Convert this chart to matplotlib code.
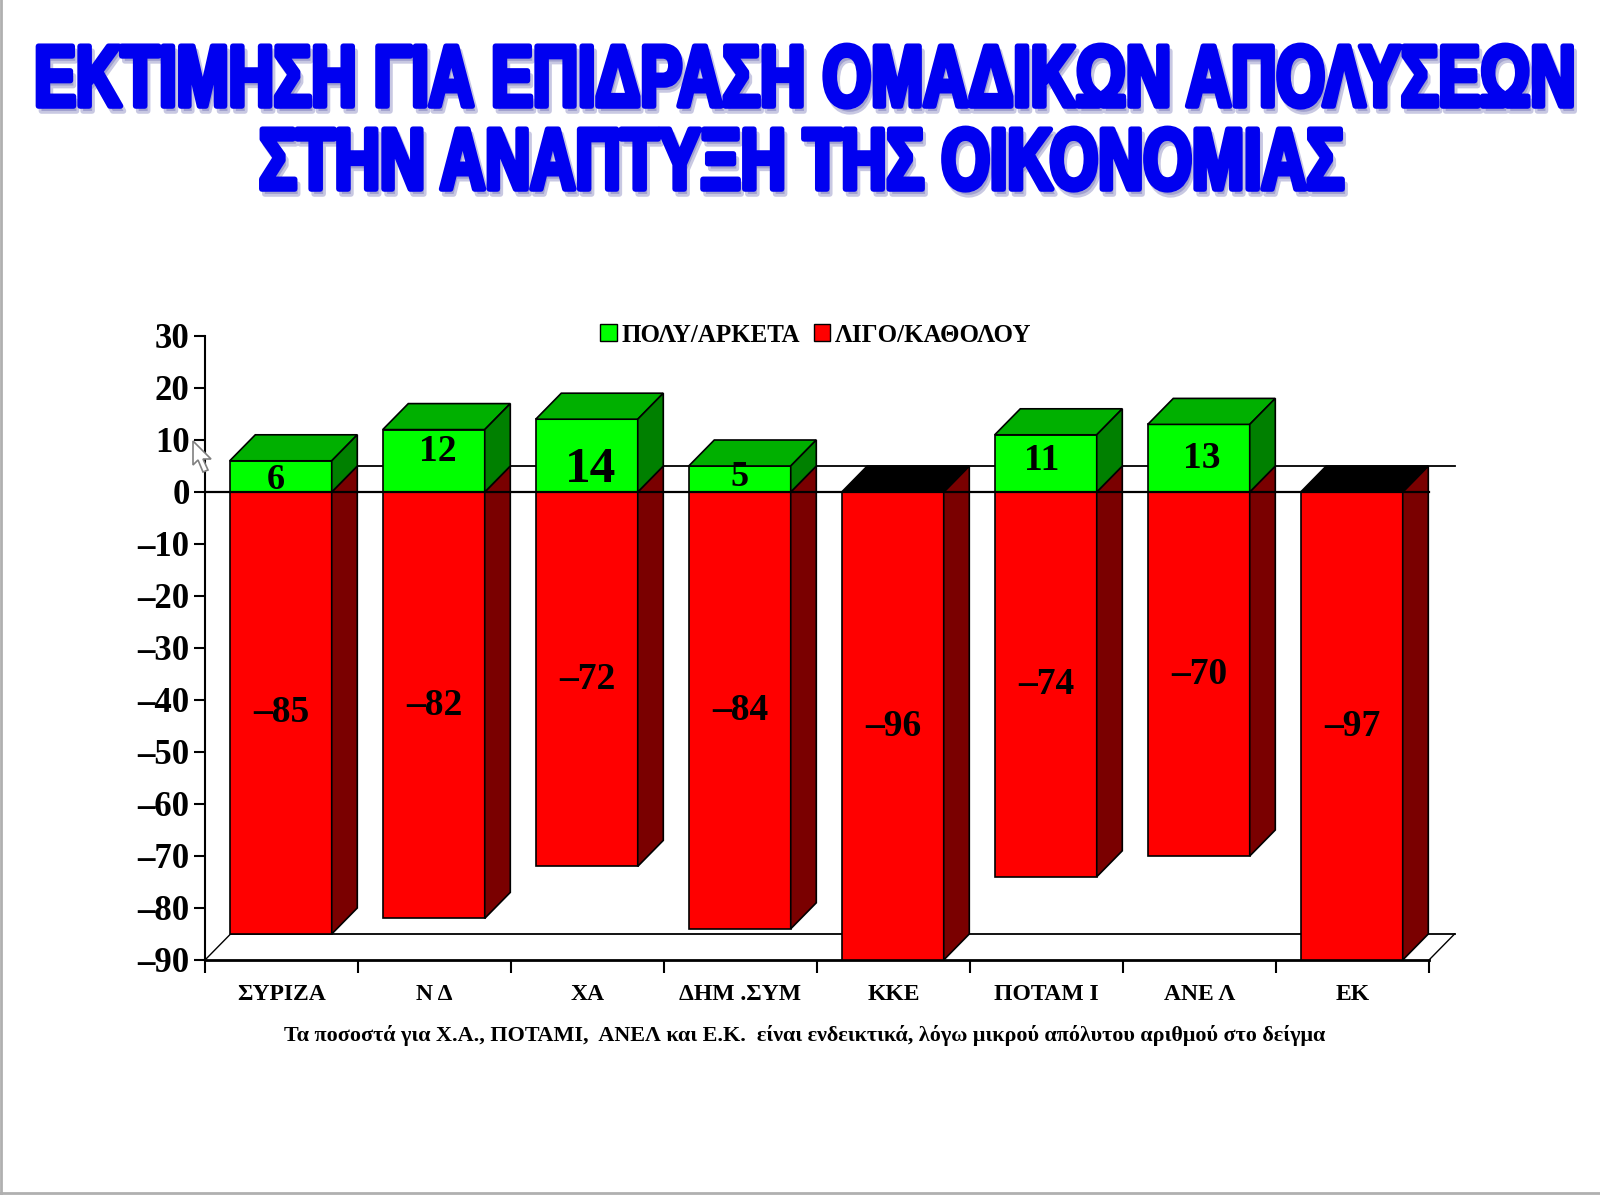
import matplotlib
matplotlib.use("Agg")
import matplotlib.pyplot as plt
import matplotlib.patheffects as pe
from matplotlib.lines import Line2D
from matplotlib.patches import Patch, Polygon
from matplotlib.transforms import Affine2D

# --- data ---
parties = ['ΣΥΡΙΖΑ', 'Ν Δ', 'ΧΑ', 'ΔΗΜ .ΣΥΜ', 'ΚΚΕ', 'ΠΟΤΑΜ Ι', 'ΑΝΕ Λ', 'ΕΚ']
poly_arketa = [6, 12, 14, 5, 0, 11, 13, 0]
ligo_katholou = [-85, -82, -72, -84, -96, -74, -70, -97]
y_ticks = list(range(-90, 31, 10))

# label placement inside the green boxes, the original is uneven
green_label_y = [2.3, 7.7, 4.2, 2.8, 0, 6, 6.4, 0]
green_label_dx = [-0.035, 0.02, 0.02, -0.005, 0, -0.03, 0.015, 0]
green_label_size = [26, 27, 37, 26, 26, 27, 27, 26]

title_lines = ['ΕΚΤΙΜΗΣΗ ΓΙΑ ΕΠΙΔΡΑΣΗ ΟΜΑΔΙΚΩΝ ΑΠΟΛΥΣΕΩΝ', 'ΣΤΗΝ ΑΝΑΠΤΥΞΗ ΤΗΣ ΟΙΚΟΝΟΜΙΑΣ']
note = 'Τα ποσοστά για Χ.Α., ΠΟΤΑΜΙ,  ΑΝΕΛ και Ε.Κ.  είναι ενδεικτικά, λόγω μικρού απόλυτου αριθμού στο δείγμα'

W, H = 1600, 1195
BAR_W = 2 / 3
DX, DY = 0.167, 5  # fake 3d depth in data units
YMIN, YMAX = -90, 30

plt.rcParams['font.family'] = ['Liberation Serif', 'DejaVu Serif']
plt.rcParams['font.weight'] = 'bold'


class TallHeavy(pe.AbstractPathEffect):
    """Stretch glyphs upward and thicken them, no Impact style font is installed."""

    def __init__(self, stretch, stroke, shadow=(3, -5)):
        super().__init__()
        self.stretch = stretch
        self.stroke = stroke
        self.shadow = shadow

    def draw_path(self, renderer, gc, tpath, affine, rgbFace=None):
        tall = Affine2D().scale(1, self.stretch) + affine
        gc0 = renderer.new_gc()
        gc0.copy_properties(gc)
        gc0.set_linewidth(self.stroke)
        gc0.set_alpha(0.3)
        gc0.set_foreground('#4a4aa0')
        renderer.draw_path(gc0, tpath, tall + Affine2D().translate(*self.shadow), (0.29, 0.29, 0.63, 0.3))
        gc0.set_alpha(1)
        gc0.set_foreground(rgbFace)
        renderer.draw_path(gc0, tpath, tall, rgbFace)
        gc0.restore()


fig = plt.figure(figsize=(W / 100, H / 100), dpi=100, facecolor='white')
ax = fig.add_axes([205 / W, 1 - 960 / H, 1251 / W, 624 / H])
ax.set_xlim(0, 1251 / 153)
ax.set_ylim(YMIN, YMAX)
ax.patch.set_alpha(0)


def face(points, color, z=3):
    ax.add_patch(Polygon(points, closed=True, facecolor=color, edgecolor='black',
                         linewidth=1.2, zorder=z, clip_on=False))


# back wall and floor lines
n = len(parties)
ax.plot([DX, n + DX], [DY, DY], color='black', lw=1.3, zorder=1)
ax.plot([DX, n + DX], [YMIN + DY, YMIN + DY], color='black', lw=1.3, zorder=1)
ax.plot([0, DX], [YMIN, YMIN + DY], color='black', lw=1, zorder=1)
ax.plot([n, n + DX], [YMIN, YMIN + DY], color='black', lw=1, zorder=1)

for i, (g, r) in enumerate(zip(poly_arketa, ligo_katholou)):
    x0 = i + (1 - BAR_W) / 2 - 0.005
    x1 = x0 + BAR_W
    low = max(r, YMIN)
    ax.bar(x0, g, width=BAR_W, align='edge', color='#00ff00', edgecolor='black', lw=1.2, zorder=3)
    ax.bar(x0, low, width=BAR_W, align='edge', color='#ff0000', edgecolor='black', lw=1.2, zorder=3)
    face([(x1, 0), (x1 + DX, DY), (x1 + DX, low + DY), (x1, low)], '#7a0000')
    top_col = '#00b000' if g > 0 else 'black'
    face([(x0, g), (x0 + DX, g + DY), (x1 + DX, g + DY), (x1, g)], top_col)
    if g > 0:
        face([(x1, 0), (x1 + DX, DY), (x1 + DX, g + DY), (x1, g)], '#008000')
        ax.text(i + 0.5 + green_label_dx[i], green_label_y[i], str(g), ha='center', va='center',
                fontsize=green_label_size[i], zorder=6)
    ax.text(i + 0.5, low / 2, '–' + str(abs(r)), ha='center', va='center', fontsize=27, zorder=6)

# front zero line runs over the bars
ax.plot([0, n], [0, 0], color='black', lw=1.6, zorder=5)

for side in ['top', 'right']:
    ax.spines[side].set_visible(False)
ax.spines['left'].set_linewidth(1.5)
ax.spines['bottom'].set_linewidth(2)
ax.spines['bottom'].set_bounds(0, n)

ax.set_yticks(y_ticks)
ax.set_yticklabels([str(v).replace('-', '–') for v in y_ticks])
ax.tick_params(axis='y', labelsize=25, length=8, width=1.5, pad=3)
ax.set_xticks(range(n + 1))
ax.set_xticklabels([])
ax.tick_params(axis='x', length=9, width=1.5)
ax.set_xticks([i + 0.5 for i in range(n)], minor=True)
ax.set_xticklabels(parties, minor=True, fontsize=17)
ax.tick_params(axis='x', which='minor', length=0, pad=17)

handles = [Patch(facecolor='#00ff00', edgecolor='black', label='ΠΟΛΥ/ΑΡΚΕΤΑ'),
           Patch(facecolor='#ff0000', edgecolor='black', label='ΛΙΓΟ/ΚΑΘΟΛΟΥ')]
fig.legend(handles=handles, ncols=2, frameon=False, fontsize=18, handlelength=0.65, handleheight=0.65,
           handletextpad=0.2, columnspacing=0.55, loc='center', bbox_to_anchor=(816 / W, 1 - 335 / H))

# title, two separate lines so the baselines sit where they should
for line, cx, base in zip(title_lines, [804, 801], [106, 189]):
    fig.text(cx / W, 1 - base / H, line, ha='center', va='baseline', color='#0000f0', fontsize=45,
             family=['Liberation Sans', 'DejaVu Sans'], fontweight='bold',
             path_effects=[TallHeavy(1.39, 4)])

fig.text(805 / W, 1 - 1035 / H, note, ha='center', va='center', fontsize=15.9)

# screenshot leftovers: mouse cursor and slide border
cx, cy = 193, 441
cursor = [(0, 0), (0, 24), (5, 19), (10, 31), (15, 29), (10, 18), (18, 18)]
fig.add_artist(Polygon([((cx + a) / W, 1 - (cy + b) / H) for a, b in cursor], closed=True,
                       transform=fig.transFigure, facecolor='white', edgecolor='#808080', lw=1.2, zorder=8))
fig.add_artist(Line2D([1 / W, 1 / W], [0, 1], color='#b0b0b0', lw=2))
fig.add_artist(Line2D([0, 1], [1 - 1193 / H, 1 - 1193 / H], color='#b0b0b0', lw=2))

fig.savefig('out.png', dpi=100)
